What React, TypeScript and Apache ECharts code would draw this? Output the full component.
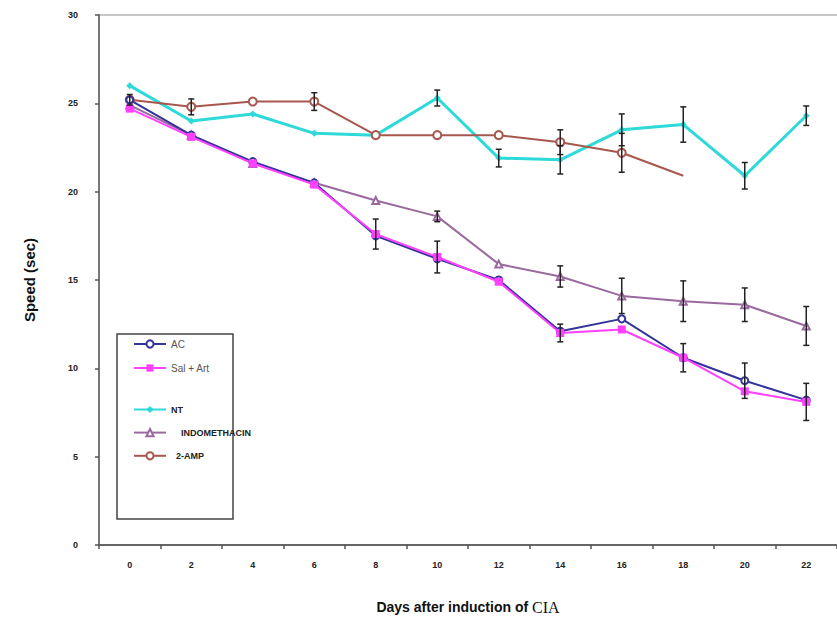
import React, { useEffect, useRef } from "react";
import * as echarts from "echarts";

const days = ["0", "2", "4", "6", "8", "10", "12", "14", "16", "18", "20", "22"];
const yTicks = [0, 5, 10, 15, 20, 25, 30];

const acValues = [25.2, 23.2, 21.7, 20.5, 17.5, 16.2, 15.0, 12.1, 12.8, 10.6, 9.3, 8.2];
const salArtValues = [24.7, 23.1, 21.6, 20.4, 17.6, 16.3, 14.9, 12.0, 12.2, 10.6, 8.7, 8.1];
const ntValues = [26.0, 24.0, 24.4, 23.3, 23.2, 25.3, 21.9, 21.8, 23.5, 23.8, 20.9, 24.3];
const indoValues = [24.9, 23.2, 21.6, 20.5, 19.5, 18.6, 15.9, 15.2, 14.1, 13.8, 13.6, 12.4];
const ampValues: (number | null)[] = [25.2, 24.8, 25.1, 25.1, 23.2, 23.2, 23.2, 22.8, 22.2, 20.9, null, null];

// half-length of error bars (0 = no bar)
const acErr = [0, 0, 0, 0, 0, 0, 0, 0, 0, 0, 1.0, 0];
const salArtErr = [0, 0, 0, 0, 0.85, 0.9, 0, 0.5, 0, 0.8, 0, 1.05];
const ntErr = [0, 0, 0, 0, 0, 0.45, 0.5, 0.8, 0.9, 1.0, 0.75, 0.55];
const indoErr = [0, 0, 0, 0, 0, 0.3, 0, 0.6, 1.0, 1.15, 0.95, 1.1];
const ampErr = [0.3, 0.45, 0, 0.5, 0, 0, 0, 0.7, 1.1, 0, 0, 0];

const C_AC = "#333399";
const C_SAL = "#FF40FF";
const C_NT = "#2ED9D9";
const C_INDO = "#9A6A9E";
const C_AMP = "#A8574E";

function buildErr(values: (number | null)[], errs: number[]) {
  const out: number[][] = [];
  values.forEach((v, i) => {
    if (v != null && errs[i] > 0) out.push([i, v - errs[i], v + errs[i]]);
  });
  return out;
}

export default function App() {
  const ref = useRef<HTMLDivElement>(null);
  useEffect(() => {
    if (!ref.current) return;
    const chart = echarts.init(ref.current, null, { renderer: "svg" });
    const errData = [
      ...buildErr(acValues, acErr),
      ...buildErr(salArtValues, salArtErr),
      ...buildErr(ntValues, ntErr),
      ...buildErr(indoValues, indoErr),
      ...buildErr(ampValues, ampErr),
    ];
    const font = "Liberation Sans, Arial, sans-serif";
    chart.setOption({
      animation: false,
      backgroundColor: "#ffffff",
      grid: { left: 99, top: 15, width: 741, height: 536, containLabel: false },
      xAxis: {
        type: "category",
        data: days,
        boundaryGap: true,
        axisLine: { lineStyle: { color: "#666", width: 2 } },
        axisTick: { show: true, length: 4, lineStyle: { color: "#555", width: 1.5 } },
        axisLabel: { fontSize: 9, fontWeight: "bold", color: "#222", fontFamily: font, margin: 15 },
        name: "{a|Days after induction of }{b|CIA}",
        nameLocation: "middle",
        nameGap: 54,
        nameTextStyle: {
          rich: {
            a: { fontSize: 14, fontWeight: "bold", color: "#111", fontFamily: font },
            b: { fontSize: 16, color: "#111", fontFamily: "Liberation Serif, Times New Roman, serif" },
          },
        },
      },
      yAxis: {
        type: "value",
        min: yTicks[0],
        max: yTicks[yTicks.length - 1],
        interval: 5,
        splitLine: { show: false },
        axisLine: { show: true, lineStyle: { color: "#777", width: 2 } },
        axisTick: { show: true, length: 4, lineStyle: { color: "#555", width: 1.5 } },
        axisLabel: { fontSize: 9, fontWeight: "bold", color: "#222", fontFamily: font, margin: 21 },
        name: "Speed (sec)",
        nameLocation: "middle",
        nameGap: 62,
        nameRotate: 90,
        nameTextStyle: { fontSize: 15, fontWeight: "bold", color: "#111", fontFamily: font },
      },
      legend: [
        {
          data: ["AC", "Sal + Art"],
          orient: "vertical",
          left: 128,
          top: 334,
          itemWidth: 32,
          itemHeight: 9,
          itemGap: 14,
          textStyle: { fontSize: 10, color: "#555", fontFamily: font },
        },
        {
          data: ["NT", "INDOMETHACIN", "2-AMP"],
          orient: "vertical",
          left: 128,
          top: 400,
          itemWidth: 32,
          itemHeight: 9,
          itemGap: 14,
          formatter: (name: string) =>
            name === "INDOMETHACIN" ? "    INDOMETHACIN" : name === "2-AMP" ? "  2-AMP" : name,
          textStyle: { fontSize: 9, fontWeight: "bold", color: "#222", fontFamily: font },
        },
      ],
      graphic: [
        {
          type: "rect",
          shape: { x: 117, y: 334, width: 116, height: 185 },
          style: { fill: "none", stroke: "#444", lineWidth: 1.5 },
          z: 1,
        },
        {
          type: "line",
          shape: { x1: 99, y1: 15, x2: 837, y2: 15 },
          style: { stroke: "#c8c8c8", lineWidth: 2 },
          z: 0,
        },
      ],
      series: [
        {
          name: "NT",
          type: "line",
          data: ntValues,
          symbol: "diamond",
          symbolSize: 7,
          lineStyle: { color: C_NT, width: 3 },
          itemStyle: { color: C_NT },
          z: 2,
        },
        {
          name: "2-AMP",
          type: "line",
          data: ampValues.map((v, i) => (i === 9 ? { value: v, symbol: "none" } : v)),
          symbol: "emptyCircle",
          symbolSize: 8,
          lineStyle: { color: C_AMP, width: 2 },
          itemStyle: { color: C_AMP, borderWidth: 2 },
          z: 3,
        },
        {
          name: "INDOMETHACIN",
          type: "line",
          data: indoValues,
          symbol: "emptyTriangle",
          symbolSize: 7,
          lineStyle: { color: C_INDO, width: 2 },
          itemStyle: { color: C_INDO, borderWidth: 1.5 },
          z: 4,
        },
        {
          name: "AC",
          type: "line",
          data: acValues,
          symbol: "emptyCircle",
          symbolSize: 7,
          lineStyle: { color: C_AC, width: 2 },
          itemStyle: { color: C_AC, borderWidth: 1.5 },
          z: 5,
        },
        {
          name: "Sal + Art",
          type: "line",
          data: salArtValues,
          symbol: "rect",
          symbolSize: 8,
          lineStyle: { color: C_SAL, width: 2 },
          itemStyle: { color: C_SAL },
          z: 6,
        },
        {
          name: "errors",
          type: "custom",
          data: errData,
          z: 7,
          silent: true,
          renderItem: (params: any, api: any) => {
            const x = api.value(0);
            const top = api.coord([x, api.value(2)]);
            const bot = api.coord([x, api.value(1)]);
            const s = { stroke: "#222", lineWidth: 1.5 };
            return {
              type: "group",
              children: [
                { type: "line", shape: { x1: top[0], y1: top[1], x2: bot[0], y2: bot[1] }, style: s },
                { type: "line", shape: { x1: top[0] - 3, y1: top[1], x2: top[0] + 3, y2: top[1] }, style: s },
                { type: "line", shape: { x1: bot[0] - 3, y1: bot[1], x2: bot[0] + 3, y2: bot[1] }, style: s },
              ],
            };
          },
        },
      ],
    });
    return () => chart.dispose();
  }, []);
  return (
    <div
      ref={ref}
      style={{ position: "absolute", left: 0, top: 0, width: 837, height: 620, background: "#fff" }}
    />
  );
}
